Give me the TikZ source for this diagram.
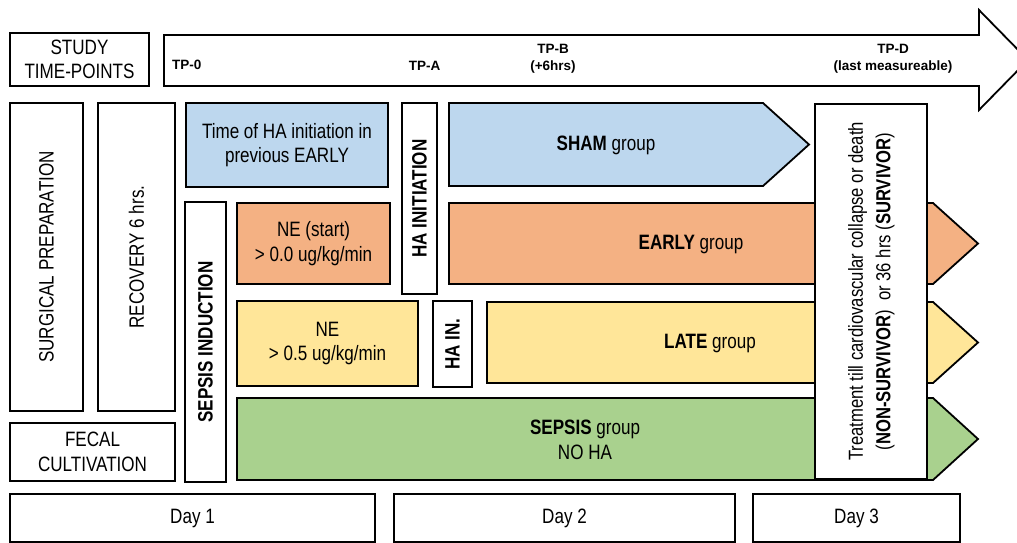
\documentclass[tikz,border=0pt]{standalone}
\usepackage{fontspec}
\setmainfont{Liberation Sans}[FakeStretch=0.82]
\newfontfamily\tpfont{Liberation Sans}
\newcommand{\mainsz}{\fontsize{20.8}{24.5}\selectfont}
\definecolor{cblue}{HTML}{BDD7EE}
\definecolor{corange}{HTML}{F4B183}
\definecolor{cyellow}{HTML}{FFE699}
\definecolor{cgreen}{HTML}{A9D18E}
\begin{document}
\begin{tikzpicture}[x=1pt,y=-1pt,
  box/.style={draw=black, line width=1.8pt, fill=white, inner sep=0pt, align=center, font=\mainsz},
  shapeline/.style={draw=black, line width=1.8pt, line join=miter},
  txt/.style={inner sep=0pt, align=center, font=\mainsz},
  tp/.style={inner sep=0pt, align=center, font=\tpfont\bfseries\fontsize{13.5}{16.5}\selectfont}]
\useasboundingbox (0,0) rectangle (1017,542);
\clip (0,0) rectangle (1017,542);

% time-point arrow
\draw[shapeline, fill=white] (164,35) -- (979,35) -- (979,10) -- (1028,60) -- (979,110) -- (979,86) -- (164,86) -- cycle;
\node[tp, anchor=base west] (tp0) at (172,69) {TP-0};
\node[tp, anchor=base] (tpa) at (424.5,70) {TP-A};
\node[tp] (tpb) at (553,59) {TP-B\\(+6hrs)};
\node[tp] (tpd) at (893,59) {TP-D\\(last measureable)};

\node[box, minimum width=139pt, minimum height=53pt] (study) at (79.5,59.5) {STUDY\\TIME-POINTS};

% left column
\node[box, minimum width=73pt, minimum height=308pt] (surg) at (46.5,257) {\rotatebox{90}{SURGICAL PREPARATION}};
\node[box, minimum width=77pt, minimum height=308pt] (recov) at (136.5,257) {\rotatebox{90}{RECOVERY 6 hrs.}};
\node[box, minimum width=165pt, minimum height=58pt] (fecal) at (92.5,452) {FECAL\\CULTIVATION};
\node[box, minimum width=41pt, minimum height=280pt] (sepind) at (205.5,342) {\rotatebox{90}{\textbf{SEPSIS INDUCTION}}};

% pre-treatment boxes
\node[box, fill=cblue, minimum width=202pt, minimum height=84pt] (prevearly) at (287,145) {Time of HA initiation in\\previous EARLY};
\node[box, fill=corange, minimum width=153pt, minimum height=81pt] (nestart) at (313.5,243.5) {NE (start)\\{>} 0.0 ug/kg/min};
\node[box, fill=cyellow, minimum width=181pt, minimum height=85pt] (nelate) at (327.5,343.5) {NE\\{>} 0.5 ug/kg/min};
\node[box, minimum width=35pt, minimum height=191pt] (hainit) at (419.5,198.5) {\rotatebox{90}{\textbf{HA INITIATION}}};
\node[box, minimum width=39pt, minimum height=86pt] (hain) at (452.5,344) {\rotatebox{90}{\textbf{HA IN.}}};

% group arrows
\draw[shapeline, fill=cblue] (449,103) -- (763,103) -- (809,144.5) -- (763,186) -- (449,186) -- cycle;
\node[txt] (sham) at (606,145) {\textbf{SHAM} group};
\draw[shapeline, fill=corange] (449,203) -- (933,203) -- (978,243.5) -- (933,284) -- (449,284) -- cycle;
\node[txt] (early) at (691,244) {\textbf{EARLY} group};
\draw[shapeline, fill=cyellow] (487,302) -- (933,302) -- (978,342.5) -- (933,383) -- (487,383) -- cycle;
\node[txt] (late) at (710,343) {\textbf{LATE} group};
\draw[shapeline, fill=cgreen] (237,398) -- (933,398) -- (978,439) -- (933,480) -- (237,480) -- cycle;
\node[txt] (sepsis) at (585,440) {\textbf{SEPSIS} group\\NO HA};

% treatment box
\node[box, minimum width=112pt, minimum height=375pt] (treat) at (871,291.5) {\rotatebox{90}{\fontsize{20.3}{27.5}\selectfont\begin{tabular}{@{}c@{}}Treatment till cardiovascular collapse or death\\(\textbf{NON-SURVIVOR})~~or 36 hrs (\textbf{SURVIVOR})\end{tabular}}};

% days
\node[box, minimum width=365pt, minimum height=48pt] (day1) at (192.5,518) {Day 1};
\node[box, minimum width=341pt, minimum height=48pt] (day2) at (564.5,518) {Day 2};
\node[box, minimum width=207pt, minimum height=48pt] (day3) at (856.5,518) {Day 3};
\end{tikzpicture}
\end{document}
